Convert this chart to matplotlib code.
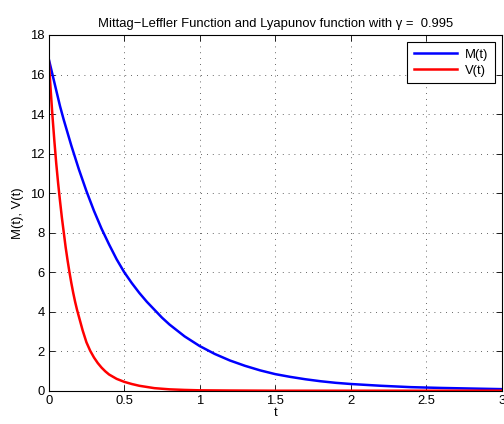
import matplotlib.pyplot as plt

plt.rcParams['font.family'] = ['Liberation Sans', 'DejaVu Sans']

# M(t)
t_m = [0, 0.025, 0.05, 0.075, 0.1, 0.15, 0.2, 0.25, 0.3, 0.35, 0.4, 0.45, 0.5, 0.55, 0.6, 0.65,
       0.7, 0.75, 0.8, 0.9, 1.0, 1.1, 1.2, 1.3, 1.4, 1.5, 1.6, 1.7, 1.8, 1.9, 2.0, 2.2, 2.4,
       2.6, 2.8, 3.0]
m_vals = [16.8, 16.0, 15.2, 14.4, 13.7, 12.4, 11.2, 10.1, 9.1, 8.2, 7.4, 6.65, 6.0, 5.45, 4.95,
          4.5, 4.1, 3.7, 3.35, 2.75, 2.26, 1.86, 1.53, 1.26, 1.03, 0.84, 0.70, 0.58, 0.48, 0.40,
          0.34, 0.25, 0.18, 0.14, 0.11, 0.08]

# V(t)
t_v = [0, 0.0125, 0.025, 0.0375, 0.05, 0.0625, 0.075, 0.0875, 0.1, 0.1125, 0.125, 0.1375, 0.15,
       0.1625, 0.175, 0.1875, 0.2, 0.225, 0.25, 0.275, 0.3, 0.325, 0.35, 0.375, 0.4, 0.45, 0.5,
       0.55, 0.6, 0.7, 0.8, 0.9, 1.0, 1.2, 1.5, 2.0, 2.5, 3.0]
v_vals = [16.8, 15.3, 13.9, 12.65, 11.5, 10.5, 9.6, 8.75, 8.0, 7.25, 6.6, 6.0, 5.45, 4.95, 4.5,
          4.1, 3.75, 3.05, 2.45, 2.02, 1.68, 1.4, 1.17, 0.98, 0.82, 0.6, 0.45, 0.34, 0.25, 0.13,
          0.07, 0.04, 0.02, 0.01, 0.0, 0.0, 0.0, 0.0]

fs = 9.4

fig = plt.figure(figsize=(5.04, 4.24), dpi=100)
ax = fig.add_axes([0.0966, 0.0785, 0.8988, 0.839])

ax.plot(t_m, m_vals, color='#0000ff', lw=1.8, label='M(t)')
ax.plot(t_v, v_vals, color='#ff0000', lw=1.8, label='V(t)')

ax.set_xlim(0, 3)
ax.set_ylim(0, 18)
ax.set_xticks([0, 0.5, 1, 1.5, 2, 2.5, 3])
ax.set_xticklabels(['0', '0.5', '1', '1.5', '2', '2.5', '3'])
ax.set_yticks(range(0, 19, 2))
ax.tick_params(direction='in', top=True, right=True, labelsize=fs, length=4, width=0.6, pad=3)

# matlab style dotted grid
ax.grid(True, linestyle=(0, (1, 6)), color='black', linewidth=0.6, alpha=0.8)
for s in ax.spines.values():
    s.set_linewidth(0.8)

ax.set_xlabel('t', fontsize=fs, labelpad=0)
ax.set_ylabel('M(t), V(t)', fontsize=fs, labelpad=4)
ax.set_title('Mittag\u2212Leffler Function and Lyapunov function with \u03b3 =  0.995', fontsize=fs, pad=6)

leg = ax.legend(loc='upper right', fontsize=fs, fancybox=False, framealpha=1,
                edgecolor='black', handlelength=3.3, borderaxespad=0.55,
                borderpad=0.5, labelspacing=0.3, handletextpad=0.6)
leg.get_frame().set_linewidth(0.8)

fig.savefig('out.png', dpi=100)
